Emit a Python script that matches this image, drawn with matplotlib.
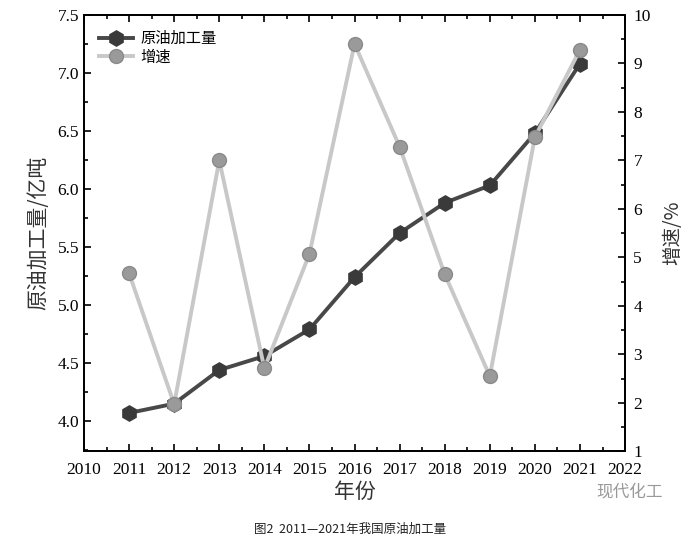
import numpy as np
import matplotlib.pyplot as plt
from matplotlib.ticker import MultipleLocator

plt.rcParams['font.family'] = ['Liberation Serif', 'Noto Sans CJK SC']

# 数据
years = [2011, 2012, 2013, 2014, 2015, 2016, 2017, 2018, 2019, 2020, 2021]
volume = [4.07, 4.15, 4.44, 4.56, 4.79, 5.24, 5.62, 5.88, 6.03, 6.48, 7.08]
growth = [4.67, 1.97, 7.00, 2.71, 5.07, 9.40, 7.28, 4.65, 2.55, 7.48, 9.28]

cjk = ['Noto Sans CJK SC', 'DejaVu Sans']

fig = plt.figure(figsize=(7, 5.49), dpi=100)
ax = fig.add_axes([0.12, 0.178, 0.773, 0.795])
ax2 = ax.twinx()

l1, = ax.plot(years, volume, color='#484848', lw=2.8, marker='h', ms=11,
              mfc='#3a3a3a', mec='#3a3a3a', label='原油加工量', zorder=3)
l2, = ax2.plot(years, growth, color='#c8c8c8', lw=2.8, marker='o', ms=10,
               mfc='#9a9a9a', mec='#8a8a8a', label='增速', zorder=3)

ax.set_xlim(2010, 2022)
ax.set_ylim(3.74, 7.5)
ax2.set_ylim(1, 10)

ax.xaxis.set_major_locator(MultipleLocator(1))
ax.xaxis.set_minor_locator(MultipleLocator(0.5))
ax.yaxis.set_major_locator(MultipleLocator(0.5))
ax.yaxis.set_minor_locator(MultipleLocator(0.25))
ax2.yaxis.set_major_locator(MultipleLocator(1))
ax2.yaxis.set_minor_locator(MultipleLocator(0.5))

ax.tick_params(which='both', direction='in', top=True, labelsize=12.5, width=1.2)
ax.tick_params(which='major', length=5)
ax.tick_params(which='minor', length=3)
ax2.tick_params(which='both', direction='in', labelsize=12.5, width=1.2, pad=6)
ax2.tick_params(which='major', length=5)
ax2.tick_params(which='minor', length=3)
ax.tick_params(axis='x', pad=8)

for a in (ax, ax2):
    for s in a.spines.values():
        s.set_linewidth(1.3)

ax.set_xlabel('年份', family=cjk, fontsize=15, color='#333333', labelpad=2)
ax.set_ylabel('原油加工量/亿吨', family=cjk, fontsize=15, color='#333333', labelpad=6)
ax2.set_ylabel('增速/%', family=cjk, fontsize=14, color='#333333', labelpad=8)

leg = ax.legend([l1, l2], ['原油加工量', '增速'], loc='upper left',
                frameon=False, prop={'family': cjk, 'size': 11},
                handlelength=2.2, borderaxespad=0.6, labelspacing=0.1,
                handletextpad=0.5)

fig.text(0.5, 0.03, '图2  2011—2021年我国原油加工量', family=cjk,
         fontsize=9, ha='center', color='#222222')
fig.text(0.9, 0.095, '现代化工', family=cjk, fontsize=12, ha='center',
         color='#999999')

plt.savefig('out.png', dpi=100)
